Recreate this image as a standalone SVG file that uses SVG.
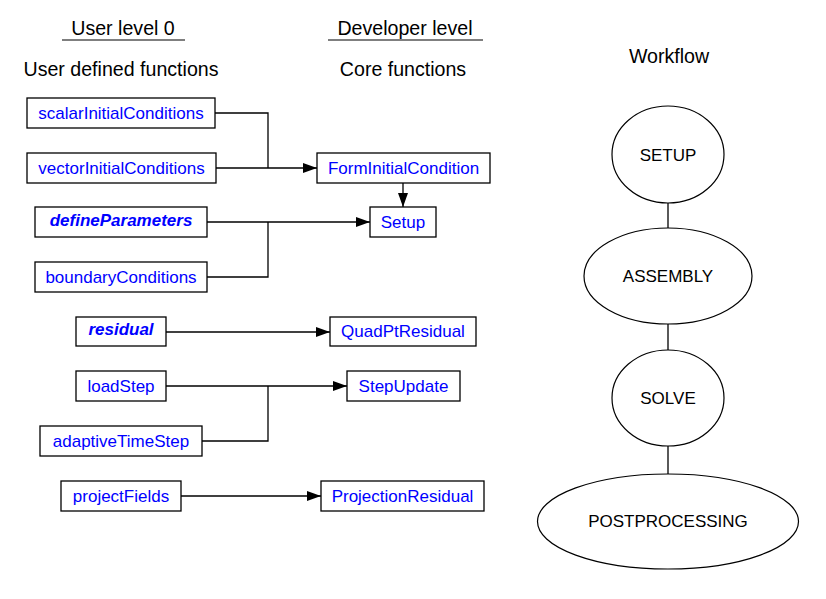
<svg xmlns="http://www.w3.org/2000/svg" width="826" height="599" viewBox="0 0 826 599">
<style>
text{font-family:"Liberation Sans",Arial,sans-serif;}
.t{font-size:19.6px;fill:#000;text-anchor:middle;}
.n rect{fill:#fff;stroke:#000;stroke-width:1.3;}
.n text{font-size:17px;fill:#0000ff;text-anchor:middle;}
.n text.bi{font-weight:bold;font-style:italic;}
.w ellipse{fill:#fff;stroke:#000;stroke-width:1.2;}
.w text{font-size:17px;fill:#000;text-anchor:middle;}
.c path{fill:none;stroke:#000;stroke-width:1.3;}
</style>
<defs>
<marker id="ah" viewBox="0 0 14 10" refX="14" refY="5" markerWidth="14" markerHeight="10" markerUnits="userSpaceOnUse" orient="auto">
<path d="M0,0 L14,5 L0,10 Z" fill="#000"/>
</marker>
</defs>
<rect width="826" height="599" fill="#fff"/>
<g id="titles">
<text class="t" x="123" y="35">User level 0</text>
<line x1="62" y1="40" x2="185" y2="40" stroke="#000" stroke-width="1.2"/>
<text class="t" x="405" y="35">Developer level</text>
<line x1="328" y1="40" x2="483" y2="40" stroke="#000" stroke-width="1.2"/>
<text class="t" x="121" y="76">User defined functions</text>
<text class="t" x="403" y="76">Core functions</text>
<text class="t" x="669" y="63">Workflow</text>
</g>
<g class="c" id="connectors">
<path d="M215,113 H268 V168"/>
<path d="M216,168 H317" marker-end="url(#ah)"/>
<path d="M403,183 V207" marker-end="url(#ah)"/>
<path d="M207,222 H370" marker-end="url(#ah)"/>
<path d="M207,277 H268 V222"/>
<path d="M166,332 H330" marker-end="url(#ah)"/>
<path d="M166,386 H347" marker-end="url(#ah)"/>
<path d="M202,441 H268 V386"/>
<path d="M181,496 H321" marker-end="url(#ah)"/>
<path d="M668,203 V228"/>
<path d="M668,324 V350"/>
<path d="M668,446 V474"/>
</g>
<g class="n" id="scalarInitialConditions"><rect x="27" y="98" width="188" height="30"/><text x="121" y="119">scalarInitialConditions</text></g>
<g class="n" id="vectorInitialConditions"><rect x="27" y="153" width="189" height="30"/><text x="121.5" y="174">vectorInitialConditions</text></g>
<g class="n" id="FormInitialCondition"><rect x="317" y="153" width="173" height="30"/><text x="403.5" y="174">FormInitialCondition</text></g>
<g class="n" id="defineParameters"><rect x="35" y="207" width="172" height="30"/><text class="bi" x="121" y="226">defineParameters</text></g>
<g class="n" id="Setup"><rect x="370" y="207" width="66" height="30"/><text x="403" y="228">Setup</text></g>
<g class="n" id="boundaryConditions"><rect x="35" y="262" width="172" height="30"/><text x="121" y="283">boundaryConditions</text></g>
<g class="n" id="residual"><rect x="76" y="317" width="90" height="29"/><text class="bi" x="121" y="335">residual</text></g>
<g class="n" id="QuadPtResidual"><rect x="330" y="317" width="146" height="29"/><text x="403" y="337">QuadPtResidual</text></g>
<g class="n" id="loadStep"><rect x="76" y="371" width="90" height="30"/><text x="121" y="392">loadStep</text></g>
<g class="n" id="StepUpdate"><rect x="347" y="371" width="113" height="30"/><text x="403.5" y="392">StepUpdate</text></g>
<g class="n" id="adaptiveTimeStep"><rect x="40" y="426" width="162" height="30"/><text x="121" y="447">adaptiveTimeStep</text></g>
<g class="n" id="projectFields"><rect x="61" y="481" width="120" height="30"/><text x="121" y="502">projectFields</text></g>
<g class="n" id="ProjectionResidual"><rect x="321" y="481" width="163" height="30"/><text x="402.5" y="502">ProjectionResidual</text></g>
<g class="w" id="SETUP"><ellipse cx="668" cy="154.5" rx="56" ry="48.5"/><text x="668" y="161">SETUP</text></g>
<g class="w" id="ASSEMBLY"><ellipse cx="668" cy="276" rx="84" ry="48"/><text x="668" y="282">ASSEMBLY</text></g>
<g class="w" id="SOLVE"><ellipse cx="668" cy="398" rx="56" ry="48"/><text x="668" y="404">SOLVE</text></g>
<g class="w" id="POSTPROCESSING"><ellipse cx="668" cy="521.5" rx="130.5" ry="47.5"/><text x="668" y="527">POSTPROCESSING</text></g>
</svg>
